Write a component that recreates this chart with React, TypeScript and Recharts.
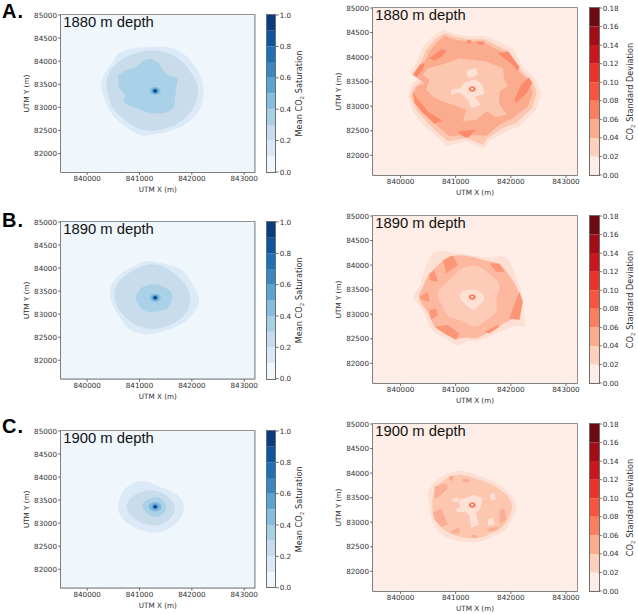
import { Bar, BarChart, Label, ReferenceArea, Scatter, ScatterChart, XAxis, YAxis } from 'recharts';

type Ring = number[][];
type Layer = { ring: Ring; fill: string; sharp?: boolean };

const xTicks = [840000, 841000, 842000, 843000];
const yTicks = [82000, 82500, 83000, 83500, 84000, 84500, 85000];
const xDomain = [839500, 843200];
const yDomain = [81600, 85000];
const fullGrid: Ring = [[839500, 81600], [839500, 85000], [843200, 85000], [843200, 81600]];

const meanTicks = [0, 0.2, 0.4, 0.6, 0.8, 1.0];
const meanBands = [0.1, 0.1, 0.1, 0.1, 0.1, 0.1, 0.1, 0.1, 0.1, 0.1];
const meanColors = ['#eff6fc', '#dbe9f6', '#c6dbef', '#a6cfe4', '#86bcdc', '#5ba3d0', '#3a88c2', '#2070b4', '#0c56a0', '#083d7f'];
const stdTicks = [0, 0.02, 0.04, 0.06, 0.08, 0.1, 0.12, 0.14, 0.16, 0.18];
const stdBands = [0.02, 0.02, 0.02, 0.02, 0.02, 0.02, 0.02, 0.02, 0.02];
const stdColors = ['#ffeee7', '#fdd0bc', '#fcab8f', '#fb7f5f', '#f6563e', '#e83429', '#c9181d', '#a10e15', '#6d0a10'];

// plume centre, same well in every map
const wellWide: Ring = [[841165, 83356], [841206, 83432], [841300, 83462], [841394, 83432], [841435, 83356], [841394, 83280], [841300, 83250], [841206, 83280]];
const wellRing: Ring = [[841185, 83356], [841220, 83420], [841300, 83450], [841380, 83420], [841415, 83356], [841380, 83292], [841300, 83262], [841220, 83292]];
const wellMid: Ring = [[841230, 83356], [841250, 83406], [841300, 83426], [841350, 83406], [841370, 83356], [841350, 83306], [841300, 83286], [841250, 83306]];
const wellInner: Ring = [[841255, 83356], [841268, 83388], [841300, 83401], [841332, 83388], [841345, 83356], [841332, 83324], [841300, 83311], [841268, 83324]];
const wellCore: Ring = [[841272, 83356], [841280, 83376], [841300, 83384], [841320, 83376], [841328, 83356], [841320, 83336], [841300, 83328], [841280, 83336]];
const stdHalo: Ring = [[841215, 83350], [841240, 83400], [841300, 83420], [841360, 83400], [841385, 83350], [841360, 83300], [841300, 83280], [841240, 83300]];
const stdOuter: Ring = [[841245, 83350], [841262, 83382], [841300, 83395], [841338, 83382], [841355, 83350], [841338, 83318], [841300, 83305], [841262, 83318]];
const stdInner: Ring = [[841272, 83350], [841280, 83366], [841300, 83372], [841320, 83366], [841328, 83350], [841320, 83334], [841300, 83328], [841280, 83334]];

// mean saturation, 1880 m
const meanA1: Ring = [[841129, 84308], [841512, 84322], [841767, 84236], [841959, 84055], [842150, 83767], [842265, 83298], [842150, 82902], [841895, 82614], [841512, 82448], [841129, 82383], [840989, 82376], [840778, 82541], [840491, 82794], [840396, 83010], [840287, 83298], [840255, 83515], [840332, 83767], [840523, 83983], [840523, 84128], [840746, 84272]];
const meanA2: Ring = [[841129, 84236], [841448, 84236], [841703, 84092], [841863, 83947], [842022, 83695], [842150, 83443], [842086, 83082], [841927, 82794], [841640, 82577], [841321, 82491], [841065, 82484], [840842, 82613], [840555, 82866], [840459, 83046], [840364, 83370], [840364, 83623], [840491, 83911], [840778, 84128]];
const meanA3: Ring = [[841078, 84019], [841225, 84055], [841384, 83947], [841448, 83789], [841576, 83673], [841735, 83645], [841703, 83428], [841672, 83154], [841672, 83025], [841544, 82902], [841448, 82880], [841289, 82866], [841129, 82902], [840970, 82974], [840778, 83046], [840695, 83118], [840734, 83262], [840606, 83428], [840581, 83695], [840746, 83803], [840938, 83875]];

// mean saturation, 1890 m
const meanB1: Ring = [[841129, 84178], [841384, 84120], [841640, 84048], [841831, 83976], [841959, 83760], [842086, 83508], [842169, 83291], [842086, 83111], [841959, 82895], [841703, 82714], [841384, 82606], [841129, 82534], [840778, 82642], [840651, 82895], [840523, 83075], [840415, 83399], [840459, 83688], [840651, 83904], [840906, 84048]];
const meanB2: Ring = [[841225, 84099], [841448, 84048], [841640, 83904], [841799, 83760], [841927, 83580], [841991, 83327], [841927, 83075], [841799, 82895], [841576, 82750], [841321, 82664], [841065, 82700], [840874, 82787], [840651, 83003], [840523, 83255], [840510, 83508], [840619, 83760], [840842, 83940], [841065, 84048]];
const meanB3: Ring = [[841065, 83616], [841321, 83673], [841480, 83580], [841652, 83472], [841608, 83291], [841563, 83111], [841384, 83061], [841097, 83025], [840989, 83183], [840900, 83327], [840970, 83493]];

// mean saturation, 1900 m
const meanC1: Ring = [[841002, 83918], [841161, 83918], [841321, 83803], [841512, 83753], [841703, 83645], [841831, 83500], [841863, 83320], [841799, 83104], [841640, 82924], [841448, 82815], [841257, 82779], [841002, 82851], [840810, 82960], [840651, 83104], [840574, 83298], [840619, 83572], [840715, 83753], [840842, 83861]];
const meanC2: Ring = [[841129, 83717], [841353, 83717], [841544, 83587], [841672, 83428], [841691, 83284], [841608, 83104], [841448, 82981], [841257, 82938], [841034, 82996], [840842, 83140], [840734, 83320], [840778, 83515], [840938, 83645]];
const meanC3: Ring = [[841129, 83500], [841321, 83587], [841448, 83515], [841531, 83356], [841480, 83198], [841321, 83118], [841161, 83176], [841053, 83320], [841053, 83443]];

// standard deviation, 1880 m
const stdA1: Ring = [[840797, 84567], [840948, 84485], [841190, 84431], [841552, 84431], [841764, 84316], [842035, 84181], [842217, 83808], [842458, 83538], [842549, 83267], [842458, 82928], [842156, 82590], [841915, 82488], [841613, 82285], [841492, 82130], [841190, 82285], [840827, 82184], [840646, 82387], [840405, 82624], [840223, 82895], [840133, 83199], [840193, 83436], [840314, 83572], [840163, 83673], [840284, 83876], [840405, 84215], [840616, 84452]];
const stdA2: Ring = [[840797, 84485], [840978, 84418], [841220, 84364], [841522, 84364], [841733, 84249], [841975, 84113], [842156, 83775], [842398, 83504], [842470, 83267], [842386, 82962], [842096, 82658], [841854, 82556], [841582, 82353], [841492, 82218], [841190, 82353], [840857, 82285], [840676, 82455], [840465, 82691], [840284, 82928], [840181, 83199], [840242, 83389], [840375, 83504], [840223, 83639], [840344, 83842], [840465, 84147], [840646, 84384]];
const stdA3: Ring = [[840797, 84431], [841008, 84350], [841250, 84316], [841492, 84316], [841703, 84181], [841915, 84079], [842096, 83741], [842307, 83538], [842398, 83267], [842307, 82996], [842035, 82759], [841794, 82624], [841552, 82400], [841190, 82421], [840888, 82387], [840707, 82556], [840525, 82759], [840344, 82996], [840223, 83199], [840284, 83389], [840435, 83470], [840284, 83605], [840405, 83842], [840525, 84113], [840676, 84316]];
const stdADark: Ring[] = [
  [[840525, 83978], [840737, 84161], [840840, 84133], [840737, 83998], [840616, 83924]],
  [[840223, 83639], [840344, 83842], [840435, 83890], [840405, 83741], [840284, 83592]],
  [[841764, 84079], [841945, 84113], [842156, 83808], [842126, 83707], [842005, 83876], [841854, 83998]],
  [[840223, 83301], [840296, 83165], [840495, 82895], [840755, 82712], [840616, 82644], [840405, 82861], [840254, 83064]],
  [[841039, 82488], [841371, 82522], [841220, 82353], [841129, 82387]],
  [[842066, 83131], [842186, 83436], [842325, 83592], [842386, 83470], [842289, 83267], [842096, 83064]],
  [[841202, 84337], [841280, 84350], [841280, 84282], [841202, 84282]],
  [[841371, 84316], [841522, 84316], [841492, 84249], [841401, 84269]],
];
const stdALight: Ring = [[840495, 83775], [840827, 83876], [841069, 83978], [841552, 83910], [841854, 83775], [841884, 83538], [841945, 83416], [841794, 83301], [841782, 83064], [841927, 82827], [841733, 82779], [841552, 82895], [841371, 82725], [841129, 82691], [841190, 82928], [840948, 83030], [840767, 83098], [840586, 83199], [840465, 83335], [840525, 83538], [840405, 83639]];
const stdACentre: Ring[] = [
  [[841160, 83484], [841371, 83551], [841492, 83416], [841522, 83253], [841341, 83186], [841462, 83030], [841280, 82962], [841220, 83131], [841069, 83280], [840918, 83233], [840918, 83335], [841081, 83368]],
  [[841220, 83741], [841371, 83775], [841401, 83639], [841250, 83572], [841190, 83639]],
];

// standard deviation, 1890 m
const stdB1: Ring = [[840586, 84316], [840918, 84269], [841129, 84215], [841371, 84201], [841613, 84133], [841854, 84201], [841975, 84133], [842035, 83896], [842156, 83592], [842229, 83355], [842217, 83050], [842307, 82678], [842096, 82813], [841884, 82678], [841613, 82543], [841371, 82441], [841190, 82475], [841039, 82306], [840857, 82509], [840586, 82610], [840465, 82881], [840435, 83050], [840284, 83253], [840193, 83355], [840344, 83524], [840405, 83795], [840495, 84066]];
const stdB2: Ring = [[840767, 84100], [840948, 84201], [841129, 84201], [841341, 84167], [841613, 84066], [841824, 84032], [841945, 83829], [842096, 83592], [842186, 83321], [842156, 82949], [841975, 82881], [841764, 82746], [841552, 82610], [841371, 82475], [841190, 82543], [841009, 82475], [840857, 82576], [840616, 82712], [840556, 82881], [840495, 83050], [840344, 83253], [840314, 83389], [840405, 83524], [840465, 83761], [840616, 83930]];
const stdBDark: Ring[] = [
  [[840616, 82746], [840857, 82779], [841069, 82610], [841009, 82475], [840797, 82610]],
  [[841522, 82644], [841764, 82779], [841794, 82746], [841613, 82610]],
  [[842035, 83118], [842156, 83456], [842217, 83253], [842156, 82881], [841975, 82915]],
  [[840525, 83084], [840646, 83118], [840677, 82982], [840556, 82881]],
  [[840344, 83355], [840495, 83456], [840525, 83253], [840405, 83287]],
  [[841613, 84032], [841794, 84032], [841884, 83863], [841733, 83863]],
  [[840767, 84100], [840948, 84201], [841039, 83998], [840827, 83829]],
  [[840525, 83829], [840616, 83897], [840677, 83659], [840525, 83693]],
];
const stdBLight: Ring = [[841069, 83930], [841371, 84032], [841613, 83829], [841854, 83592], [841703, 83355], [841794, 83050], [841552, 82881], [841341, 82678], [841129, 82915], [840857, 82881], [840767, 83186], [840616, 83423], [840797, 83592], [840948, 83761]];
const stdBCentre: Ring = [[841069, 83470], [841280, 83524], [841492, 83443], [841552, 83287], [841371, 83152], [841341, 83050], [841190, 83186], [841069, 83287]];

// standard deviation, 1900 m
const stdC1: Ring = [[840827, 83984], [840948, 84032], [841160, 84066], [841431, 83930], [841673, 83863], [841884, 83693], [842035, 83524], [842144, 83287], [842005, 83050], [841915, 82813], [841673, 82712], [841492, 82610], [841310, 82576], [841069, 82610], [840797, 82678], [840616, 82881], [840525, 83186], [840525, 83456], [840465, 83558], [840586, 83829]];
const stdC2: Ring = [[840858, 83930], [841160, 83998], [841401, 83863], [841643, 83795], [841854, 83626], [841987, 83490], [842048, 83287], [841945, 83050], [841854, 82881], [841643, 82779], [841431, 82658], [841190, 82678], [840918, 82746], [840676, 82915], [840574, 83186], [840574, 83456], [840616, 83727]];
const stdCDark: Ring[] = [
  [[840616, 83727], [840827, 83795], [840858, 83693], [840707, 83524], [840616, 83490]],
  [[840586, 83186], [840737, 83287], [840858, 82949], [840737, 82915], [840616, 83050]],
  [[840876, 83930], [840968, 83950], [840948, 83842], [840876, 83863]],
  [[841129, 83897], [841250, 83876], [841220, 83809], [841129, 83829]],
  [[840918, 82813], [841069, 82901], [841069, 82793], [840948, 82766]],
  [[841280, 82746], [841401, 82725], [841371, 82678], [841280, 82698]],
  [[841794, 83253], [841884, 83287], [841915, 83050], [841794, 82949]],
  [[841552, 82861], [841794, 82915], [841733, 82834], [841613, 82813]],
];
const stdCCentre: Ring[] = [
  [[841069, 83456], [841341, 83558], [841492, 83490], [841443, 83287], [841371, 83172], [841420, 82949], [841280, 82881], [841250, 83118], [841160, 83253], [841069, 83321]],
  [[840918, 83456], [841039, 83510], [841069, 83423], [840978, 83402]],
  [[840978, 83267], [841129, 83308], [841190, 83219], [841039, 83199]],
  [[841582, 83050], [841673, 83104], [841703, 82949], [841582, 82928]],
  [[841613, 83558], [841704, 83605], [841721, 83470], [841643, 83443]],
];

const textColor = '#303030';
const frameColor = '#6e6e6e';
const tickFont = { fontFamily: 'DejaVu Sans', fontSize: 7.2, fill: textColor };

const blueBg = '#eff6fc';
const blue1 = '#dce9f6';
const blue2 = '#c8dcec';
const blue3 = '#a9d1e7';
const redBg = '#ffeee7';
const redHalo = '#fde0d4';
const redMid = '#fcc6af';
const redMain = '#fbab8e';
const redDark = '#fb8b6b';
const redPale = '#fee1d5';

const well = (rings: [Ring, string][]): Layer[] => rings.map(([ring, fill]) => ({ ring, fill }));
const many = (rings: Ring[], fill: string): Layer[] => rings.map((ring) => ({ ring, fill, sharp: true }));
const stdWell = well([[stdHalo, '#fcb59b'], [stdOuter, '#ef5b3f'], [stdInner, '#fff0ea']]);

const layersMeanA = [
  ...well([[fullGrid, blueBg], [meanA1, blue1], [meanA2, blue2]]),
  ...many([meanA3], blue3),
  ...well([[wellRing, '#86bcdc'], [wellMid, '#5ba3d0'], [wellInner, '#2070b4'], [wellCore, '#083d7f']]),
];
const layersMeanB = well([[fullGrid, blueBg], [meanB1, blue1], [meanB2, blue2], [meanB3, blue3], [wellRing, '#86bcdc'], [wellMid, '#5ba3d0'], [wellInner, '#2070b4'], [wellCore, '#083d7f']]);
const layersMeanC = well([[fullGrid, blueBg], [meanC1, blue1], [meanC2, blue2], [meanC3, blue3], [wellWide, '#7fb8da'], [wellMid, '#5ba3d0'], [wellInner, '#2070b4'], [wellCore, '#083d7f']]);
const layersStdA = [
  ...many([stdA1, stdA2], redHalo).map((layer, i) => ({ ...layer, fill: i === 0 ? redHalo : redMid })),
  ...many([stdA3], redMain),
  ...many(stdADark, redDark),
  ...many([stdALight], redMid),
  ...many(stdACentre, redPale),
  ...stdWell,
];
const layersStdB = [
  ...well([[stdB1, redHalo], [stdB2, '#fcb9a0']]),
  ...many(stdBDark, '#fb9676'),
  ...well([[stdBLight, '#fdcbb7']]),
  ...well([[stdBCentre, redPale]]),
  ...stdWell,
];
const layersStdC = [
  ...well([[stdC1, redHalo], [stdC2, redMid]]),
  ...many(stdCDark, '#fbae93'),
  ...many(stdCCentre, redPale),
  ...stdWell,
];

const NoDot = () => null;

type MapProps = { left: number; top: number; width: number; height: number; layers: Layer[]; title: string; background?: string };

function ContourMap({ left, top, width, height, layers, title, background = redBg }: MapProps) {
  const axisWidth = 41;
  const padTop = 6;
  const padRight = 14;
  const axisHeight = 26;
  const allLayers: Layer[] = layers[0].ring === fullGrid ? layers : [{ ring: fullGrid, fill: background }, ...layers];
  return (
    <div style={{ position: 'absolute', left: left - axisWidth, top: top - padTop }}>
      <ScatterChart width={width + axisWidth + padRight} height={height + padTop + axisHeight} margin={{ top: padTop, right: padRight, left: 0, bottom: 0 }}>
        <XAxis type="number" dataKey="x" domain={xDomain} ticks={xTicks} interval={0} allowDataOverflow height={axisHeight} tick={tickFont} tickSize={3} tickMargin={1} stroke={frameColor}>
          <Label content={() => (
            <text x={axisWidth + width / 2} y={height + padTop + 20} textAnchor="middle" fontFamily="DejaVu Sans" fontSize={7.2} fill={textColor}>UTM X (m)</text>
          )} />
        </XAxis>
        <YAxis type="number" dataKey="y" domain={yDomain} ticks={yTicks} interval={0} allowDataOverflow width={axisWidth} tick={tickFont} tickSize={3} tickMargin={1} stroke={frameColor}>
          <Label content={() => (
            <text transform={`translate(9,${padTop + height / 2}) rotate(-90)`} textAnchor="middle" fontFamily="DejaVu Sans" fontSize={7.2} fill={textColor}>UTM Y (m)</text>
          )} />
        </YAxis>
        {allLayers.map((layer, i) => (
          <Scatter
            key={i}
            data={layer.ring.map(([x, y]) => ({ x, y }))}
            line={{ fill: layer.fill, stroke: 'none' }}
            lineJointType={i === 0 || layer.sharp ? 'linearClosed' : 'basisClosed'}
            shape={NoDot}
            isAnimationActive={false}
          />
        ))}
        <ReferenceArea x1={xDomain[0]} x2={xDomain[1]} y1={yDomain[0]} y2={yDomain[1]} fill="none" stroke={frameColor} strokeWidth={1.5} />
      </ScatterChart>
      <div style={{ position: 'absolute', left: axisWidth + 2, top: padTop - 2, fontFamily: 'Liberation Sans', fontSize: 14.8, lineHeight: '18px', color: '#111', whiteSpace: 'nowrap' }}>{title}</div>
    </div>
  );
}

type ColorbarProps = { left: number; top: number; height: number; bands: number[]; colors: string[]; ticks: number[]; digits: number; max: number; name: string; labelAt: number };

function Colorbar({ left, top, height, bands, colors, ticks, digits, max, name, labelAt }: ColorbarProps) {
  const barWidth = 8.7;
  const pad = 8;
  const axisWidth = 39;
  const row: Record<string, number | string> = { name: 'bar' };
  bands.forEach((b, i) => { row[`b${i}`] = b; });
  const mid = pad + height / 2;
  return (
    <div style={{ position: 'absolute', left, top: top - pad }}>
      <BarChart width={barWidth + axisWidth} height={height + pad * 2} data={[row]} margin={{ top: pad, right: 0, left: 0, bottom: pad }} barCategoryGap={0}>
        <XAxis dataKey="name" hide />
        <YAxis orientation="right" type="number" domain={[0, max]} ticks={ticks} interval={0} allowDataOverflow width={axisWidth} tick={tickFont} tickSize={3} tickMargin={1} tickFormatter={(v: number) => v.toFixed(digits)} stroke={frameColor} axisLine={false}>
          <Label content={() => (
            <text transform={`translate(${labelAt},${mid}) rotate(-90)`} textAnchor="middle" fontFamily="DejaVu Sans" fontSize={8.2} fill={textColor}>
              {name.split('2')[0]}<tspan dy={1.8} fontSize={5.6}>2</tspan><tspan dy={-1.8}>{name.split('2')[1]}</tspan>
            </text>
          )} />
        </YAxis>
        {bands.map((_, i) => (
          <Bar key={i} dataKey={`b${i}`} stackId="cb" fill={colors[i]} isAnimationActive={false} />
        ))}
      </BarChart>
      <div style={{ position: 'absolute', left: 0, top: pad, width: barWidth, height, boxSizing: 'border-box', outline: `1.2px solid ${frameColor}`, pointerEvents: 'none' }} />
    </div>
  );
}

const letterStyle = { position: 'absolute', left: 2, fontFamily: 'Liberation Sans', fontWeight: 700, fontSize: 20, letterSpacing: 1, color: '#000' } as const;

export default function App() {
  return (
    <div style={{ position: 'absolute', left: 0, top: 0, width: 638, height: 614, background: '#fff', overflow: 'hidden' }}>
      <div style={{ ...letterStyle, top: 0 }}>A.</div>
      <div style={{ ...letterStyle, top: 208.6 }}>B.</div>
      <div style={{ ...letterStyle, top: 415 }}>C.</div>

      <ContourMap left={61.3} top={14.7} width={193.7} height={157} layers={layersMeanA} title="1880 m depth" />
      <Colorbar left={266.7} top={14.7} height={157} bands={meanBands} colors={meanColors} ticks={meanTicks} digits={1} max={1} name="Mean CO2 Saturation" labelAt={35.5} />
      <ContourMap left={373.3} top={8} width={204} height={167} layers={layersStdA} title="1880 m depth" />
      <Colorbar left={590} top={8} height={167} bands={stdBands} colors={stdColors} ticks={stdTicks} digits={2} max={0.18} name="CO2 Standard Deviation" labelAt={43.5} />

      <ContourMap left={61.3} top={222.3} width={193.7} height={156.7} layers={layersMeanB} title="1890 m depth" />
      <Colorbar left={266.7} top={222.3} height={156.7} bands={meanBands} colors={meanColors} ticks={meanTicks} digits={1} max={1} name="Mean CO2 Saturation" labelAt={35.5} />
      <ContourMap left={373.3} top={215.7} width={204} height={167} layers={layersStdB} title="1890 m depth" />
      <Colorbar left={590} top={215.7} height={167} bands={stdBands} colors={stdColors} ticks={stdTicks} digits={2} max={0.18} name="CO2 Standard Deviation" labelAt={43.5} />

      <ContourMap left={61.3} top={430.7} width={193.7} height={156.7} layers={layersMeanC} title="1900 m depth" />
      <Colorbar left={266.7} top={430.7} height={156.7} bands={meanBands} colors={meanColors} ticks={meanTicks} digits={1} max={1} name="Mean CO2 Saturation" labelAt={35.5} />
      <ContourMap left={373.3} top={424} width={204} height={167} layers={layersStdC} title="1900 m depth" />
      <Colorbar left={590} top={424} height={167} bands={stdBands} colors={stdColors} ticks={stdTicks} digits={2} max={0.18} name="CO2 Standard Deviation" labelAt={43.5} />
    </div>
  );
}
